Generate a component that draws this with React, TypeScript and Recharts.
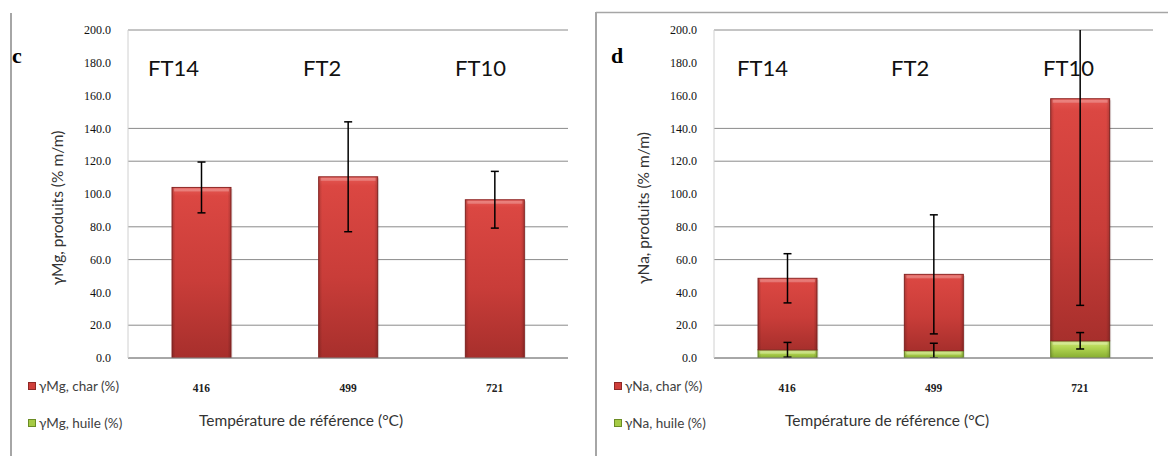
import React from "react";
import { BarChart, Bar, XAxis, YAxis, CartesianGrid, ErrorBar, Legend } from "recharts";

const TEMPS = ["416", "499", "721"];
const RUNS = ["FT14", "FT2", "FT10"];
const Y_TICKS = [0, 20, 40, 60, 80, 100, 120, 140, 160, 180, 200];
// only these grid lines survive in the scanned figure
const GRID_VALUES = [0, 20, 60, 80, 120, 140, 200];

// panel c : magnesium
const MG_CHAR = [104, 110.5, 96.5];
const MG_CHAR_ERR = [15.5, 33.5, 17.3];
const MG_HUILE = [0, 0, 0];

// panel d : sodium
const NA_CHAR = [43.6, 46.5, 147.6];
const NA_CHAR_ERR = [15, 36.3, 126];
const NA_HUILE = [5, 4.5, 10.5];
const NA_HUILE_ERR = [4.5, 4.5, 5];

const FONT = "Lato, 'Open Sans', sans-serif";
const SERIF = "'Liberation Serif', 'DejaVu Serif', serif";
const H = 456;
const PLOT_TOP = 30;
const PLOT_H = 328;

const SWATCH: Record<string, { fill: string; edge: string }> = {
  char: { fill: "#cf3f3b", edge: "#8e2826" },
  huile: { fill: "#a6cb45", edge: "#6b8c25" },
};

function BevelBar(props: any) {
  const { x, y, width, height, gradId, edge } = props;
  if (!height || height <= 0.5) return null;
  return (
    <g>
      <rect x={x + 1.5} y={y + 1.5} width={width} height={height} fill="rgba(0,0,0,0.12)" />
      <rect x={x} y={y} width={width} height={height} fill={`url(#${gradId})`} stroke={edge} strokeWidth={1} />
      <rect x={x} y={y} width={width} height={height} fill={`url(#${gradId}-side)`} />
      {height > 5 && (
        <rect x={x + 2} y={y + 1} width={width - 4} height={3} fill="rgba(255,255,255,0.25)" />
      )}
    </g>
  );
}

function LegendBox({ payload }: any) {
  const items = [...(payload || [])].sort((a: any, b: any) =>
    a.dataKey === "char" ? -1 : b.dataKey === "char" ? 1 : 0
  );
  return (
    <div style={{ fontFamily: FONT, fontSize: 13.5, color: "#404040" }}>
      {items.map((it: any) => {
        const sw = SWATCH[String(it.dataKey)];
        return (
          <div key={String(it.dataKey)} style={{ display: "flex", alignItems: "center", height: 14, marginBottom: 23 }}>
            <span
              style={{
                width: 6,
                height: 6,
                background: sw.fill,
                border: `1px solid ${sw.edge}`,
                marginRight: 3,
                flexShrink: 0,
              }}
            />
            <span style={{ whiteSpace: "nowrap" }}>{it.value}</span>
          </div>
        );
      })}
    </div>
  );
}

interface PanelProps {
  el: string;
  letter: string;
  char: number[];
  charErr: number[];
  huile: number[];
  huileErr?: number[];
  left: number;
  width: number;
  rightMargin: number;
  runX: number[];
}

function Panel({ el, letter, char, charErr, huile, huileErr, left, width, rightMargin, runX }: PanelProps) {
  const data = TEMPS.map((t, i) => ({
    temp: t,
    huile: huile[i],
    char: char[i],
    charErr: charErr[i],
    huileErr: huileErr ? huileErr[i] : 0,
  }));
  const red = `red-${el}`;
  const green = `green-${el}`;
  const clip = `clip-${el}`;

  return (
    <div style={{ position: "absolute", left, top: 0, width, height: H }}>
      <BarChart
        width={width}
        height={H}
        data={data}
        margin={{ top: PLOT_TOP, right: rightMargin, bottom: 68, left: 0 }}
        barSize={59}
      >
        <defs>
          <clipPath id={clip}>
            <rect x={0} y={PLOT_TOP} width={width} height={PLOT_H} />
          </clipPath>
          <linearGradient id={red} x1="0" y1="0" x2="0" y2="1">
            <stop offset="0%" stopColor="#e55a55" />
            <stop offset="5%" stopColor="#db4742" />
            <stop offset="55%" stopColor="#c93d39" />
            <stop offset="100%" stopColor="#a72f2c" />
          </linearGradient>
          <linearGradient id={`${red}-side`} x1="0" y1="0" x2="1" y2="0">
            <stop offset="0%" stopColor="rgba(0,0,0,0.18)" />
            <stop offset="6%" stopColor="rgba(0,0,0,0)" />
            <stop offset="94%" stopColor="rgba(0,0,0,0)" />
            <stop offset="100%" stopColor="rgba(0,0,0,0.18)" />
          </linearGradient>
          <linearGradient id={green} x1="0" y1="0" x2="0" y2="1">
            <stop offset="0%" stopColor="#d2ea7c" />
            <stop offset="40%" stopColor="#b2d552" />
            <stop offset="100%" stopColor="#86ad30" />
          </linearGradient>
          <linearGradient id={`${green}-side`} x1="0" y1="0" x2="1" y2="0">
            <stop offset="0%" stopColor="rgba(0,0,0,0.15)" />
            <stop offset="6%" stopColor="rgba(0,0,0,0)" />
            <stop offset="94%" stopColor="rgba(0,0,0,0)" />
            <stop offset="100%" stopColor="rgba(0,0,0,0.15)" />
          </linearGradient>
        </defs>
        <CartesianGrid vertical={false} stroke="#8a8a8a" horizontalValues={GRID_VALUES} />
        <XAxis
          dataKey="temp"
          height={30}
          tickLine={false}
          tickMargin={20}
          axisLine={{ stroke: "#8a8a8a" }}
          tick={{ fontFamily: SERIF, fontSize: 11.5, fontWeight: "bold", fill: "#222" }}
        />
        <YAxis
          width={128}
          domain={[0, 200]}
          ticks={Y_TICKS}
          allowDataOverflow
          tickFormatter={(v: number) => v.toFixed(1)}
          tickLine={false}
          tickMargin={11}
          axisLine={{ stroke: "#d0d0d0" }}
          tick={{ fontFamily: SERIF, fontSize: 12, fill: "#111" }}
        />
        <Legend
          layout="vertical"
          align="center"
          verticalAlign="middle"
          content={<LegendBox />}
          wrapperStyle={{ left: 28, top: 379, width: 200 }}
        />
        <Bar
          dataKey="huile"
          stackId="s"
          name={`γ${el}, huile (%)`}
          fill={SWATCH.huile.fill}
          shape={<BevelBar gradId={green} edge={SWATCH.huile.edge} />}
          isAnimationActive={false}
        >
          {huileErr && (
            <ErrorBar dataKey="huileErr" width={4} stroke="#000" strokeWidth={1.5} clipPath={`url(#${clip})`} />
          )}
        </Bar>
        <Bar
          dataKey="char"
          stackId="s"
          name={`γ${el}, char (%)`}
          fill={SWATCH.char.fill}
          shape={<BevelBar gradId={red} edge={SWATCH.char.edge} />}
          isAnimationActive={false}
        >
          <ErrorBar dataKey="charErr" width={4} stroke="#000" strokeWidth={1.5} clipPath={`url(#${clip})`} />
        </Bar>
      </BarChart>
      <svg
        width={width}
        height={H}
        style={{ position: "absolute", left: 0, top: 0, pointerEvents: "none" }}
      >
        <text x={letter === "c" ? 12 : 25} y={63} fontFamily={SERIF} fontWeight="bold" fontSize={22} fill="#000">
          {letter}
        </text>
        {RUNS.map((r, i) => (
          <text key={r} x={runX[i]} y={76} fontFamily={FONT} fontSize={22} fill="#111">
            {r}
          </text>
        ))}
        <text
          x={63}
          y={208}
          transform="rotate(-90 63 208)"
          textAnchor="middle"
          fontFamily={FONT}
          fontSize={15.5}
          fill="#333"
        >
          {`γ${el}, produits (% m/m)`}
        </text>
        <text x={301} y={426} textAnchor="middle" fontFamily={FONT} fontSize={15.5} fill="#333">
          Température de référence (°C)
        </text>
      </svg>
    </div>
  );
}

export default function App() {
  return (
    <div style={{ position: "absolute", left: 0, top: 0, width: 1168, height: H, background: "#fff", overflow: "hidden" }}>
      <Panel
        el="Mg"
        letter="c"
        char={MG_CHAR}
        charErr={MG_CHAR_ERR}
        huile={MG_HUILE}
        left={0}
        width={600}
        rightMargin={32}
        runX={[148, 303, 455]}
      />
      <Panel
        el="Na"
        letter="d"
        char={NA_CHAR}
        charErr={NA_CHAR_ERR}
        huile={NA_HUILE}
        huileErr={NA_HUILE_ERR}
        left={586}
        width={582}
        rightMargin={15}
        runX={[151, 305, 457]}
      />
      <svg width={1168} height={H} style={{ position: "absolute", left: 0, top: 0, pointerEvents: "none" }}>
        <line x1={11} y1={13} x2={11} y2={H} stroke="#a6a6a6" strokeWidth={2} />
        <line x1={596} y1={12.5} x2={1168} y2={12.5} stroke="#a6a6a6" strokeWidth={1.5} />
        <line x1={596} y1={12} x2={596} y2={H} stroke="#a6a6a6" strokeWidth={2} />
      </svg>
    </div>
  );
}
